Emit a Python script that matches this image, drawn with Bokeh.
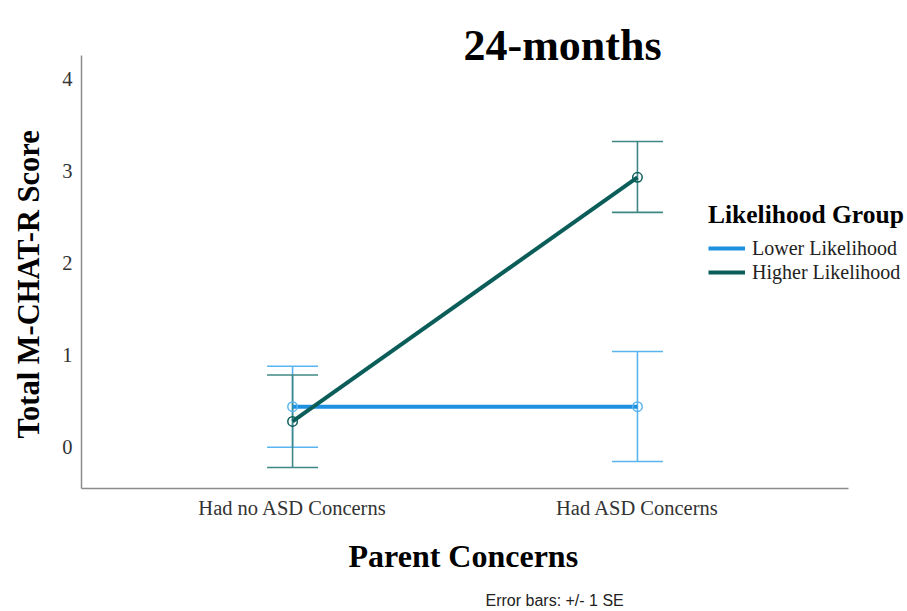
from bokeh.plotting import figure
from bokeh.models import Range1d, FixedTicker, Whisker, TeeHead, ColumnDataSource, Label, Title
from bokeh.embed import file_html
from bokeh.resources import INLINE

# ---- data ----
categories = ["Had no ASD Concerns", "Had ASD Concerns"]
groups = ["Lower Likelihood", "Higher Likelihood"]
lower_mean = [0.44, 0.44]
lower_se_lo = [0.00, -0.155]
lower_se_hi = [0.88, 1.04]
higher_mean = [0.28, 2.93]
higher_se_lo = [-0.22, 2.55]
higher_se_hi = [0.785, 3.32]
y_ticks = [0, 1, 2, 3, 4]

title_text = "24-months"
x_label = "Parent Concerns"
y_label = "Total M-CHAT-R Score"
legend_title = "Likelihood Group"
note_text = "Error bars: +/- 1 SE"

# ---- styles ----
line_colors = ["#1E90E0", "#0B5D59"]
bar_colors = ["#5AB4F0", "#3F8784"]
SERIF = "Liberation Serif"

xpos = [i + 1 for i in range(len(categories))]

# axis extents (data units)
X_START, X_AXIS_END, X_END = 0.388, 2.612, 2.783
Y_START, Y_AXIS_END, Y_END = -0.448, 4.253, 4.85

p = figure(width=907, height=611, output_backend="svg", toolbar_location=None,
           x_range=Range1d(X_START, X_END), y_range=Range1d(Y_START, Y_END),
           min_border_left=81, min_border_right=0, min_border_top=0, min_border_bottom=123)
p.outline_line_color = None
p.grid.visible = False
p.background_fill_color = "white"
p.border_fill_color = "white"

series = [
    (groups[0], lower_mean, lower_se_lo, lower_se_hi),
    (groups[1], higher_mean, higher_se_lo, higher_se_hi),
]

# error bars
for i, (name, m, lo, hi) in enumerate(series):
    src = ColumnDataSource(dict(x=xpos, lower=lo, upper=hi))
    w = Whisker(source=src, base="x", lower="lower", upper="upper", dimension="height",
                line_color=bar_colors[i], line_width=1.6,
                upper_head=TeeHead(size=51, line_color=bar_colors[i], line_width=1.6),
                lower_head=TeeHead(size=51, line_color=bar_colors[i], line_width=1.6))
    p.add_layout(w)

# lines + markers
for i, (name, m, lo, hi) in enumerate(series):
    p.line(xpos, m, line_color=line_colors[i], line_width=4, legend_label=name)
for i, (name, m, lo, hi) in enumerate(series):
    p.scatter(xpos, m, marker="circle", size=9.5,
              line_color=bar_colors[i] if i == 0 else line_colors[i],
              line_width=1.5, fill_alpha=0)

# axes
for ax in (p.xaxis[0], p.yaxis[0]):
    ax.axis_line_color = "#8c8c8c"
    ax.axis_line_width = 1.5
    ax.major_tick_line_color = None
    ax.minor_tick_line_color = None
    ax.major_tick_out = 0
    ax.major_tick_in = 0
    ax.minor_tick_out = 0
    ax.minor_tick_in = 0
    ax.major_label_text_font = SERIF
    ax.major_label_text_font_size = "20.5px"
    ax.major_label_text_color = "#333333"

p.xaxis.ticker = FixedTicker(ticks=xpos)
p.xaxis.major_label_overrides = {x: c for x, c in zip(xpos, categories)}
p.xaxis.bounds = (X_START, X_AXIS_END)
p.xaxis.major_label_standoff = 8

p.yaxis.ticker = FixedTicker(ticks=y_ticks)
p.yaxis.bounds = (Y_START, Y_AXIS_END)
p.yaxis.major_label_standoff = 9

# axis titles (side titles, so they can sit where the reference puts them)
p.add_layout(Title(text=y_label, align="left", offset=50, standoff=23, vertical_align="top",
                   text_font=SERIF, text_font_style="bold", text_font_size="30.5px",
                   text_color="#000000"), "left")
p.add_layout(Title(text=x_label, align="left", offset=267, standoff=28, vertical_align="bottom",
                   text_font=SERIF, text_font_style="bold", text_font_size="32px",
                   text_color="#000000"), "below")
# footnote below the x axis
p.add_layout(Title(text=note_text, align="left", offset=404, standoff=4, vertical_align="bottom",
                   text_font="Liberation Sans", text_font_style="normal",
                   text_font_size="16px", text_color="#222222"), "below")

# legend
lg = p.legend[0]
lg.location = (627, 204)
lg.title = legend_title
lg.title_text_font = SERIF
lg.title_text_font_style = "bold"
lg.title_text_font_size = "25.5px"
lg.title_text_color = "#000000"
lg.title_standoff = 6
lg.label_text_font = SERIF
lg.label_text_font_size = "20px"
lg.label_text_color = "#222222"
lg.glyph_width = 37
lg.glyph_height = 24
lg.label_height = 24
lg.label_standoff = 7
lg.spacing = 0
lg.padding = 0
lg.margin = 0
lg.border_line_alpha = 0
lg.background_fill_alpha = 0

# chart title (inside the frame area above the axis extent)
p.add_layout(Label(x=382, y=443, x_units="screen", y_units="screen", text=title_text,
                   text_font=SERIF, text_font_style="bold", text_font_size="44px",
                   text_color="#000000", text_baseline="alphabetic"))

open("out.html", "w").write(file_html(p, INLINE))
